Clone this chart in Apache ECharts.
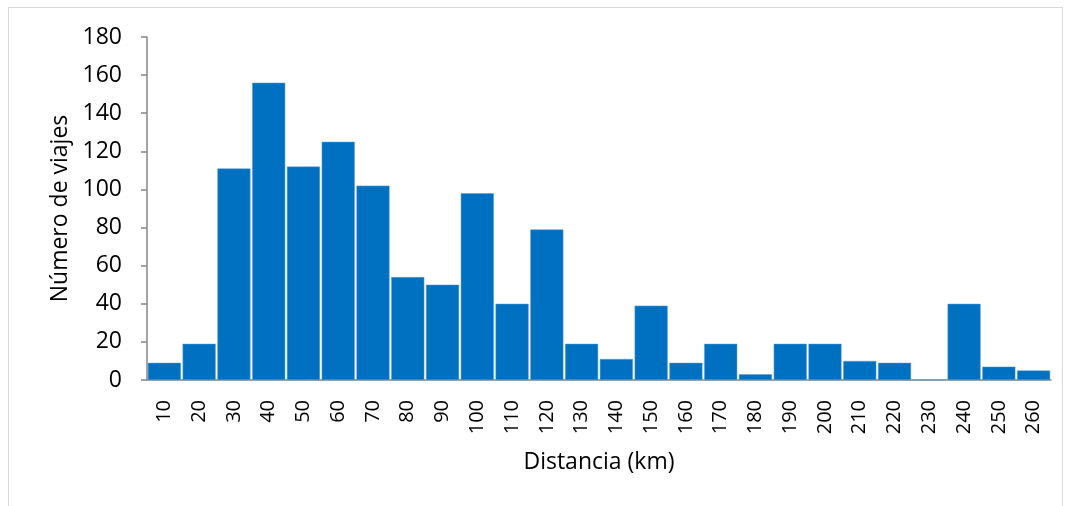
<!DOCTYPE html>
<html><head><meta charset="utf-8">
<script src="https://cdn.jsdelivr.net/npm/echarts@6/dist/echarts.min.js"></script>
<style>html,body{margin:0;padding:0;background:#fff}#c{width:1070px;height:506px}
#frame{position:absolute;left:8px;top:7px;width:1053px;height:520px;border:1px solid #d9d9d9;pointer-events:none}</style>
</head><body><div id="c"></div><div id="frame"></div>
<script>
const categories = ['10','20','30','40','50','60','70','80','90','100','110','120','130','140','150','160','170','180','190','200','210','220','230','240','250','260'];
const viajes = [9,19,111,156,112,125,102,54,50,98,40,79,19,11,39,9,19,3,19,19,10,9,0,40,7,5];
const yTicks = [0,20,40,60,80,100,120,140,160,180];
const font = '"Open Sans", "Liberation Sans", sans-serif';
const chart = echarts.init(document.getElementById('c'));
chart.setOption({
  animation:false,
  grid:{left:147,right:19,top:37,bottom:126},
  xAxis:{type:'category',data:categories,
    axisLine:{lineStyle:{color:'#868686',width:1.5}},
    axisTick:{alignWithLabel:false,length:7,lineStyle:{color:'#868686',width:1.5}},
    axisLabel:{rotate:90,color:'#000',fontSize:20,fontFamily:font,margin:20,interval:0},
    name:'Distancia (km)',nameLocation:'middle',nameGap:71,
    nameTextStyle:{color:'#000',fontSize:23,fontFamily:font}},
  yAxis:{type:'value',min:yTicks[0],max:yTicks[yTicks.length-1],interval:20,
    axisLine:{show:true,lineStyle:{color:'#868686',width:1.5}},
    axisTick:{show:true,length:6,lineStyle:{color:'#868686',width:1.5}},
    splitLine:{show:false},
    axisLabel:{color:'#000',fontSize:23,fontFamily:font,margin:25},
    name:'Número de viajes',nameLocation:'middle',nameGap:73,
    nameTextStyle:{color:'#000',fontSize:23,fontFamily:font}},
  series:[{type:'bar',data:viajes,barCategoryGap:'5%',
    itemStyle:{color:'#0070c0',borderColor:'#5b9bd5',borderWidth:0.5}}]
});
</script></body></html>
